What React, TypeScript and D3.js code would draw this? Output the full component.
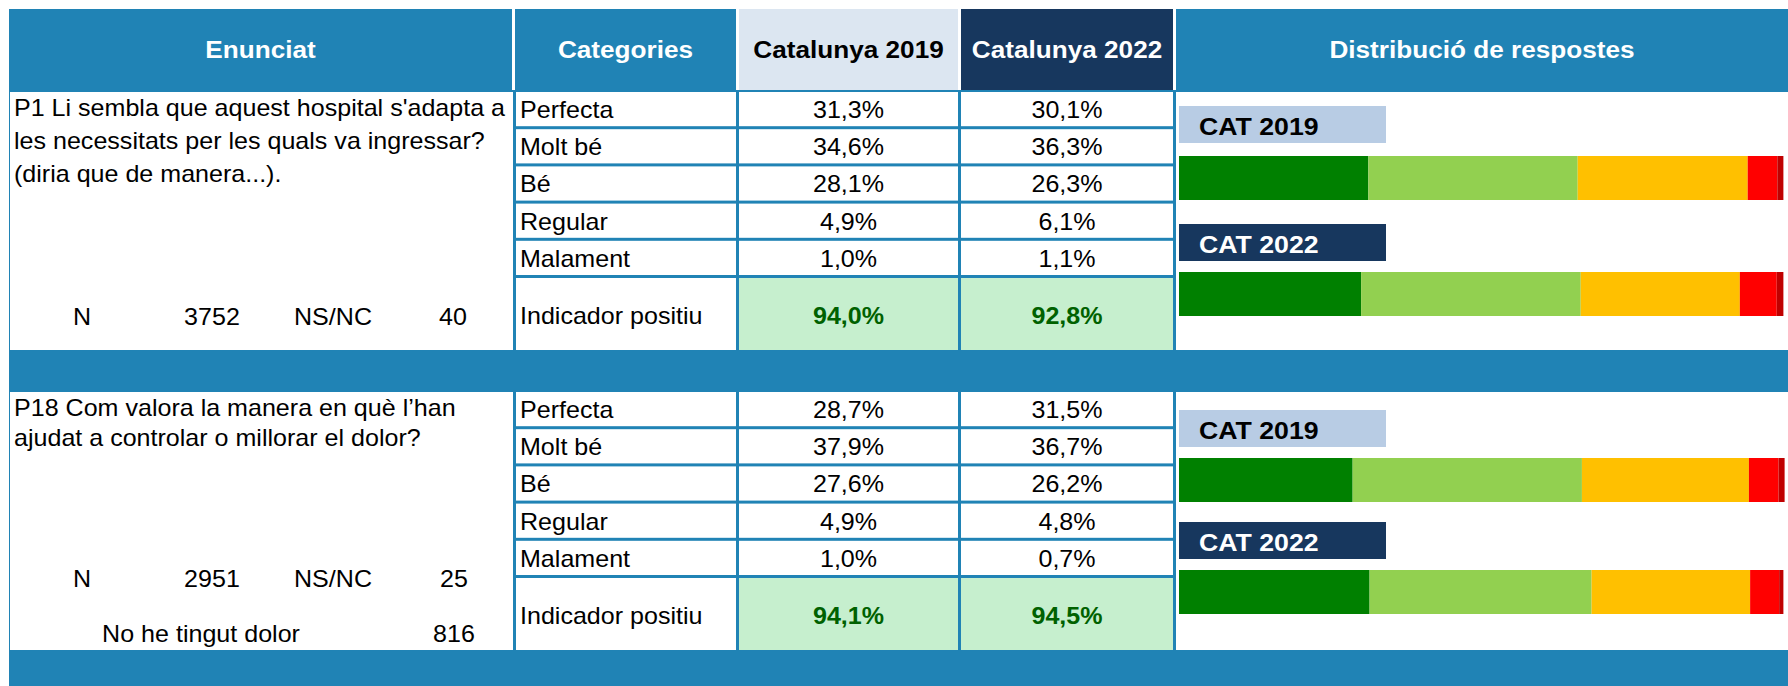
import React from 'react';
import * as d3 from 'd3';

const categories = ['Perfecta', 'Molt bé', 'Bé', 'Regular', 'Malament'];
const years = ['Catalunya 2019', 'Catalunya 2022'];
const barLabels = ['CAT 2019', 'CAT 2022'];

const p1Lines = [
  "P1 Li sembla que aquest hospital s'adapta a",
  'les necessitats per les quals va ingressar?',
  '(diria que de manera...).',
];
const p1_2019 = [31.3, 34.6, 28.1, 4.9, 1.0];
const p1_2022 = [30.1, 36.3, 26.3, 6.1, 1.1];
const p1Indicator = [94.0, 92.8];
const p1N = 3752;
const p1NsNc = 40;

const p18Lines = [
  'P18 Com valora la manera en què l’han',
  'ajudat a controlar o millorar el dolor?',
];
const p18_2019 = [28.7, 37.9, 27.6, 4.9, 1.0];
const p18_2022 = [31.5, 36.7, 26.2, 4.8, 0.7];
const p18Indicator = [94.1, 94.5];
const p18N = 2951;
const p18NsNc = 25;
const p18NoPain = 816;

const segColors = ['#008000', '#92D050', '#FFC000', '#FF0000', '#C00000'];

const BLUE = '#2083B5';
const NAVY = '#17375E';
const FONT = '"Liberation Sans", Arial, sans-serif';
const SX = 1.09; // the source text is a bit wide

const fmt = (v: number) => v.toFixed(1).replace('.', ',') + '%';

// columns
const cols = {
  enun: [9, 513],
  cat: [516, 736],
  y19: [739, 958],
  y22: [961, 1173],
  dist: [1176, 1788],
};

const sections = [
  {
    top: 92, lines: p1Lines, lineGap: 33, v19: p1_2019, v22: p1_2022, ind: p1Indicator,
    stats: [{ y: 233, items: [['N', 82], [String(p1N), 212], ['NS/NC', 333], [String(p1NsNc), 453]] }],
    offs: [14, 64, 132, 180],
  },
  {
    top: 392, lines: p18Lines, lineGap: 30, v19: p18_2019, v22: p18_2022, ind: p18Indicator,
    stats: [
      { y: 195, items: [['N', 82], [String(p18N), 212], ['NS/NC', 333], [String(p18NsNc), 454]] },
      { y: 250, items: [['No he tingut dolor', 201], [String(p18NoPain), 454]] },
    ],
    offs: [18, 66, 130, 178],
  },
];

const T = ({ x, y, children, anchor = 'start', size = 23, weight = 'normal', fill = '#000', sx = SX }: any) => (
  <text
    transform={`translate(${x},${y}) scale(${sx},1)`}
    textAnchor={anchor}
    fontSize={size}
    fontWeight={weight}
    fill={fill}
    fontFamily={FONT}
  >
    {children}
  </text>
);

export default function App() {
  const W = 1788;
  const H = 686;
  const xBar = d3.scaleLinear().domain([0, 100]).range([1179, 1784]);
  const rowY = d3.scaleLinear().domain([0, 5]).range([0, 186]);
  const mid = (c: number[]) => (c[0] + c[1]) / 2;

  const headers = [
    { c: [9, 512], fill: BLUE, text: 'Enunciat', color: '#fff' },
    { c: [515, 736], fill: BLUE, text: 'Categories', color: '#fff' },
    { c: [739, 958], fill: '#DCE6F1', text: years[0], color: '#000' },
    { c: [961, 1173], fill: NAVY, text: years[1], color: '#fff' },
    { c: [1176, 1788], fill: BLUE, text: 'Distribució de respostes', color: '#fff' },
  ];

  return (
    <svg width={W} height={H} style={{ position: 'absolute', left: 0, top: 0, background: '#fff' }}>
      {headers.map((h) => (
        <g key={h.text}>
          <rect x={h.c[0]} y={9} width={h.c[1] - h.c[0]} height={81} fill={h.fill} />
          <T x={mid(h.c)} y={58} anchor="middle" size={24} weight="bold" fill={h.color}>{h.text}</T>
        </g>
      ))}
      <rect x={9} y={90} width={W - 9} height={H - 90} fill={BLUE} />
      {sections.map((s, si) => {
        const bottom = s.top + 258;
        return (
          <g key={si}>
            <rect x={10} y={s.top} width={cols.enun[1] - 10} height={258} fill="#fff" />
            <rect x={cols.dist[0]} y={s.top} width={cols.dist[1] - cols.dist[0]} height={258} fill="#fff" />
            {s.lines.map((l, i) => (
              <T key={i} x={14} y={s.top + 24 + i * s.lineGap}>{l}</T>
            ))}
            {s.stats.map((st, k) =>
              st.items.map(([t, x]) => (
                <T key={k + t} x={x} y={s.top + st.y} anchor="middle">{t}</T>
              ))
            )}
            {[...categories, 'Indicador positiu'].map((c, i) => {
              const y0 = s.top + rowY(i);
              const h = i < 5 ? rowY(1) - 3 : bottom - y0;
              const ty = i < 5 ? y0 + 26 : y0 + 46;
              const isInd = i === 5;
              return (
                <g key={c}>
                  <rect x={cols.cat[0]} y={y0} width={cols.cat[1] - cols.cat[0]} height={h} fill="#fff" />
                  <rect x={cols.y19[0]} y={y0} width={cols.y19[1] - cols.y19[0]} height={h} fill={isInd ? '#C6EFCE' : '#fff'} />
                  <rect x={cols.y22[0]} y={y0} width={cols.y22[1] - cols.y22[0]} height={h} fill={isInd ? '#C6EFCE' : '#fff'} />
                  <T x={cols.cat[0] + 4} y={ty}>{c}</T>
                  {isInd ? (
                    <>
                      <T x={mid(cols.y19)} y={ty} anchor="middle" weight="bold" fill="#006100">{fmt(s.ind[0])}</T>
                      <T x={mid(cols.y22)} y={ty} anchor="middle" weight="bold" fill="#006100">{fmt(s.ind[1])}</T>
                    </>
                  ) : (
                    <>
                      <T x={mid(cols.y19)} y={ty} anchor="middle">{fmt(s.v19[i])}</T>
                      <T x={mid(cols.y22)} y={ty} anchor="middle">{fmt(s.v22[i])}</T>
                    </>
                  )}
                </g>
              );
            })}
            {[s.v19, s.v22].map((vals, b) => {
              const boxY = s.top + s.offs[b * 2];
              const barY = s.top + s.offs[b * 2 + 1];
              const ends = d3.cumsum(vals);
              return (
                <g key={b}>
                  <rect x={1179} y={boxY} width={207} height={37} fill={b === 0 ? '#B8CCE4' : NAVY} />
                  <T x={1199} y={boxY + 29} size={24.5} weight="bold" fill={b === 0 ? '#000' : '#fff'}>{barLabels[b]}</T>
                  {vals.map((v, k) => (
                    <rect
                      key={k}
                      x={xBar(ends[k] - v)}
                      y={barY}
                      width={xBar(ends[k]) - xBar(ends[k] - v)}
                      height={44}
                      fill={segColors[k]}
                    />
                  ))}
                </g>
              );
            })}
          </g>
        );
      })}
    </svg>
  );
}
